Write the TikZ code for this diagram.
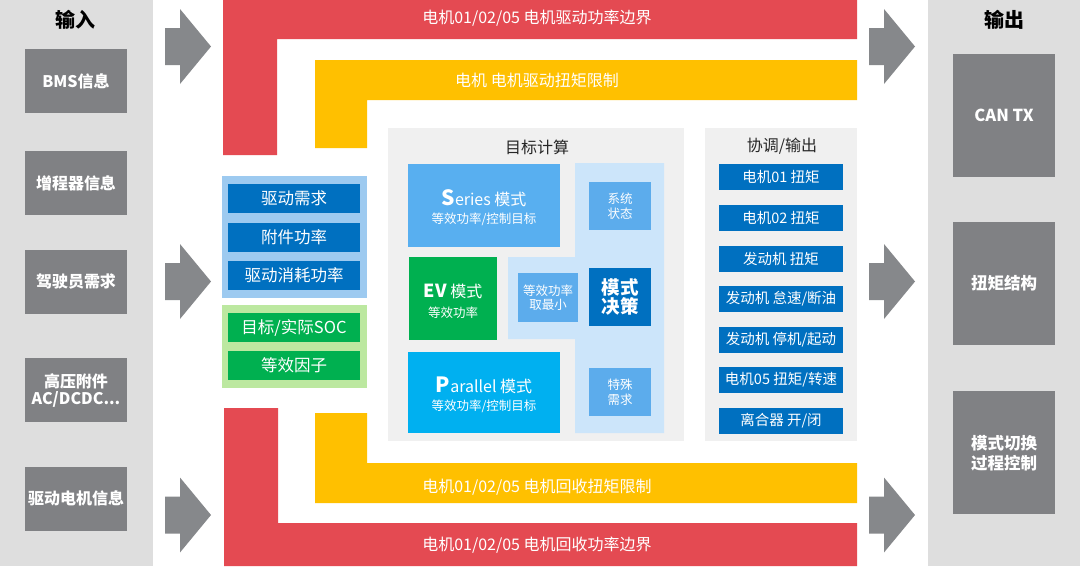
\documentclass[tikz,border=0pt]{standalone}
\usepackage{fontspec}
\setmainfont{Noto Sans CJK SC}
\usetikzlibrary{calc}
\definecolor{panelgray}{RGB}{222,222,222}
\definecolor{boxgray}{RGB}{128,129,132}
\definecolor{arrowgray}{RGB}{134,136,139}
\definecolor{bandred}{RGB}{228,74,82}
\definecolor{bandyellow}{RGB}{255,192,0}
\definecolor{lightpanel}{RGB}{240,240,240}
\definecolor{groupblue}{RGB}{157,202,240}
\definecolor{darkblue}{RGB}{0,112,192}
\definecolor{groupgreen}{RGB}{188,232,160}
\definecolor{itemgreen}{RGB}{0,176,80}
\definecolor{seriesblue}{RGB}{88,175,240}
\definecolor{parblue}{RGB}{0,176,240}
\definecolor{decisionbg}{RGB}{204,229,250}
\definecolor{smallblue}{RGB}{92,172,236}
\definecolor{titletext}{RGB}{38,38,38}
\newcommand\blockarr[2]{%
  \fill[arrowgray] (#1,#2-18.5) -- (#1+15,#2-18.5) -- (#1+15,#2-37.5) -- (#1+46,#2)
    -- (#1+15,#2+37.5) -- (#1+15,#2+18.5) -- (#1,#2+18.5) -- cycle;}
\begin{document}
\begin{tikzpicture}[x=1pt,y=-1pt,
  box/.style={inner sep=0pt, outer sep=0pt, align=center, text=white},
  graybox/.style={box, fill=boxgray, minimum width=102pt, minimum height=64pt, font=\fontsize{16}{17.5}\selectfont\bfseries},
  outbox/.style={box, fill=boxgray, minimum width=102pt, minimum height=123pt, font=\fontsize{16.5}{20}\selectfont\bfseries},
  panetitle/.style={inner sep=0pt, text=black, font=\fontsize{20}{22}\selectfont\bfseries},
  bandtext/.style={inner sep=0pt, text=white, font=\fontsize{16}{18}\selectfont},
  leftitem/.style={box, minimum width=132pt, minimum height=29pt, font=\fontsize{16.5}{18}\selectfont},
  rightitem/.style={box, fill=darkblue, minimum width=124pt, minimum height=26pt, font=\fontsize{14.5}{16}\selectfont},
  modebox/.style={box},
  modetitle/.style={inner sep=0pt, text=white, font=\fontsize{16}{18}\selectfont},
  modesub/.style={inner sep=0pt, text=white, font=\fontsize{12.5}{14}\selectfont},
  smallbox/.style={box, fill=smallblue, font=\fontsize{12.5}{14.5}\selectfont},
  calctitle/.style={inner sep=0pt, text=titletext, font=\fontsize{16}{18}\selectfont}
]
\useasboundingbox (0,0) rectangle (1080,566);
\fill[white] (0,0) rectangle (1080,566);
% side panels
\fill[panelgray] (0,0) rectangle (153,566);
\fill[panelgray] (928,0) rectangle (1080,566);

% input column
\node[panetitle] (intitle) at (76,20) {输入};
\node[graybox] (bms) at (76,81) {BMS信息};
\node[graybox] (rex) at (76,183) {增程器信息};
\node[graybox] (drv) at (76,281.7) {驾驶员需求};
\node[graybox] (hv) at (76,390.4) {高压附件\\AC/DCDC...};
\node[graybox] (mot) at (76,498.7) {驱动电机信息};

% output column
\node[panetitle] (outtitle) at (1004,20) {输出};
\node[outbox] (cantx) at (1004,115) {CAN TX};
\node[outbox] (torq) at (1004,283.7) {扭矩结构};
\node[outbox] (modesw) at (1004,452.8) {模式切换\\过程控制};

% block arrows
\blockarr{165}{46.5}
\blockarr{165}{281.5}
\blockarr{165}{515}
\blockarr{869}{46.5}
\blockarr{869}{281.5}
\blockarr{869}{515}

% bands
\fill[bandred] (223,0) -- (857,0) -- (857,39) -- (277,39) -- (277,155) -- (223,155) -- cycle;
\node[bandtext] (redtop) at (537,18) {电机01/02/05 电机驱动功率边界};
\fill[bandyellow] (315,60) -- (857,60) -- (857,100) -- (367,100) -- (367,148) -- (315,148) -- cycle;
\node[bandtext] (yeltop) at (537,80) {电机 电机驱动扭矩限制};
\fill[bandyellow] (315,413) -- (367,413) -- (367,463) -- (857,463) -- (857,503) -- (315,503) -- cycle;
\node[bandtext] (yelbot) at (537,487) {电机01/02/05 电机回收扭矩限制};
\fill[bandred] (224,408) -- (278,408) -- (278,523) -- (857,523) -- (857,566) -- (224,566) -- cycle;
\node[bandtext] (redbot) at (537,545) {电机01/02/05 电机回收功率边界};

% left groups
\fill[groupblue] (222,176) rectangle (367,298);
\node[leftitem, fill=darkblue] (need) at (294,198.5) {驱动需求};
\node[leftitem, fill=darkblue] (acc) at (294,237) {附件功率};
\node[leftitem, fill=darkblue] (cons) at (294,275) {驱动消耗功率};
\fill[groupgreen] (222,305) rectangle (367,388);
\node[leftitem, fill=itemgreen] (soc) at (294,327.5) {目标/实际SOC};
\node[leftitem, fill=itemgreen] (eqf) at (294,365.5) {等效因子};

% target calculation panel
\fill[lightpanel] (388,128) rectangle (684,441);
\node[calctitle] (calct) at (537,147) {目标计算};
\fill[decisionbg] (575,163) -- (664,163) -- (664,433) -- (575,433) -- (575,339) -- (508,339) -- (508,257) -- (575,257) -- cycle;
\node[modebox, fill=seriesblue, minimum width=152pt, minimum height=83pt] (series) at (484,205.5) {};
\node[modetitle] (seriest) at ($(series.center)+(0,-7.5)$) {{\fontsize{21}{18}\selectfont\bfseries S}eries 模式};
\node[modesub] (seriess) at ($(series.center)+(0,14)$) {等效功率/控制目标};
\node[modebox, fill=itemgreen, minimum width=88pt, minimum height=83pt] (ev) at (453,298.5) {};
\node[modetitle] (evt) at ($(ev.center)+(0,-7.5)$) {{\fontsize{18}{18}\selectfont\bfseries EV} 模式};
\node[modesub] (evs) at ($(ev.center)+(0,14)$) {等效功率};
\node[modebox, fill=parblue, minimum width=152pt, minimum height=81pt] (par) at (484,392.5) {};
\node[modetitle] (part) at ($(par.center)+(0,-7.5)$) {{\fontsize{21}{18}\selectfont\bfseries P}arallel 模式};
\node[modesub] (pars) at ($(par.center)+(0,14)$) {等效功率/控制目标};
\node[smallbox, minimum width=62pt, minimum height=48pt] (sys) at (620,206) {系统\\状态};
\node[smallbox, minimum width=60pt, minimum height=49pt] (minp) at (548,297.5) {等效功率\\取最小};
\node[box, fill=darkblue, minimum width=62pt, minimum height=58pt, font=\fontsize{18.5}{19.5}\selectfont\bfseries] (dec) at (620,297) {模式\\决策};
\node[smallbox, minimum width=62pt, minimum height=48pt] (spec) at (620,392) {特殊\\需求};

% coordination / output panel
\fill[lightpanel] (705,128) rectangle (857,441);
\node[calctitle] (coordt) at (782,146) {协调/输出};
\node[rightitem] (m1) at (781,176.5) {电机01 扭矩};
\node[rightitem] (m2) at (781,217.5) {电机02 扭矩};
\node[rightitem] (eng) at (781,258.5) {发动机 扭矩};
\node[rightitem] (idle) at (781,299) {发动机 怠速/断油};
\node[rightitem] (stst) at (781,339.5) {发动机 停机/起动};
\node[rightitem] (m5) at (781,380) {电机05 扭矩/转速};
\node[rightitem] (clu) at (781,420.5) {离合器 开/闭};
\end{tikzpicture}
\end{document}
